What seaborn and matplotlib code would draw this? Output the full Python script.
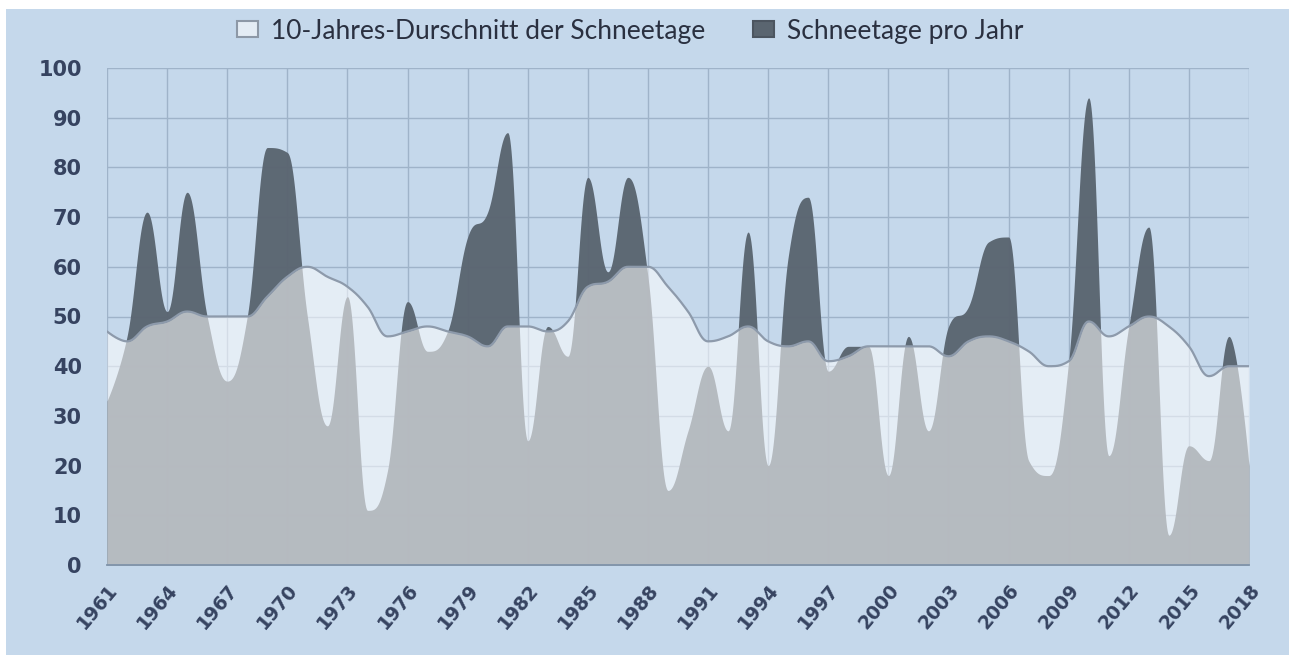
import numpy as np
import pandas as pd
import matplotlib
matplotlib.use("Agg")
import matplotlib.pyplot as plt
from matplotlib.patches import Patch, Rectangle
import seaborn as sns

# Snow days per year and their 10-year running average
years = list(range(1961, 2019))
snow_days = [33, 46, 71, 51, 75, 50, 37, 50, 84, 83, 50, 28, 54, 11, 19, 53, 43, 47, 66, 71,
             87, 25, 48, 42, 78, 59, 78, 58, 15, 27, 40, 27, 67, 20, 62, 74, 39, 44, 44, 18,
             46, 27, 48, 52, 65, 66, 21, 18, 41, 94, 22, 48, 68, 6, 24, 21, 46, 20]
avg_10y = [47, 45, 48, 49, 51, 50, 50, 50, 54, 58, 60, 58, 56, 52, 46, 47, 48, 47, 46, 44,
           48, 48, 47, 49, 56, 57, 60, 60, 56, 51, 45, 46, 48, 45, 44, 45, 41, 42, 44, 44,
           44, 44, 42, 45, 46, 45, 43, 40, 41, 49, 46, 48, 50, 48, 44, 38, 40, 40]

x_ticks = list(range(1961, 2019, 3))
y_ticks = list(range(0, 101, 10))
legend_labels = ["10-Jahres-Durschnitt der Schneetage", "Schneetage pro Jahr"]

BG = "#c5d8eb"
GRID = "#9fb3c9"
DARK = "#5a6570"
TEXT = "#364360"


def spline_path(xs, ys, smoothing=1.5, n=40):
    """Smooth curve through the points using bezier control points (areaspline style)."""
    xs = np.asarray(xs, float)
    ys = np.asarray(ys, float)
    m = len(xs)
    lc = np.zeros((m, 2))
    rc = np.zeros((m, 2))
    denom = smoothing + 1
    for i in range(m):
        x, y = xs[i], ys[i]
        if i == 0 or i == m - 1:
            lc[i] = (x, y)
            rc[i] = (x, y)
            continue
        lx, ly = xs[i - 1], ys[i - 1]
        nx, ny = xs[i + 1], ys[i + 1]
        lcx = (smoothing * x + lx) / denom
        lcy = (smoothing * y + ly) / denom
        rcx = (smoothing * x + nx) / denom
        rcy = (smoothing * y + ny) / denom
        if rcx != lcx:
            corr = ((rcy - lcy) * (rcx - x)) / (rcx - lcx) + y - rcy
            lcy += corr
            rcy += corr
        if lcy > ly and lcy > y:
            lcy = max(ly, y)
            rcy = 2 * y - lcy
        elif lcy < ly and lcy < y:
            lcy = min(ly, y)
            rcy = 2 * y - lcy
        if rcy > ny and rcy > y:
            rcy = max(ny, y)
            lcy = 2 * y - rcy
        elif rcy < ny and rcy < y:
            rcy = min(ny, y)
            lcy = 2 * y - rcy
        lc[i] = (lcx, lcy)
        rc[i] = (rcx, rcy)
    t = np.linspace(0, 1, n, endpoint=False)[:, None]
    pts = []
    for i in range(m - 1):
        p0 = np.array([xs[i], ys[i]])
        p1 = rc[i]
        p2 = lc[i + 1]
        p3 = np.array([xs[i + 1], ys[i + 1]])
        b = ((1 - t) ** 3) * p0 + 3 * ((1 - t) ** 2) * t * p1 + 3 * (1 - t) * t ** 2 * p2 + t ** 3 * p3
        pts.append(b)
    pts.append(np.array([[xs[-1], ys[-1]]]))
    pts = np.vstack(pts)
    return pts[:, 0], pts[:, 1]


df = pd.DataFrame({"Jahr": years, "Schneetage": snow_days, "Durchschnitt": avg_10y})

sns.set_theme(style="whitegrid")
plt.rcParams["font.family"] = ["Lato", "DejaVu Sans"]

fig = plt.figure(figsize=(12.89, 6.55), dpi=100, facecolor=BG)
# white margins along the top and left edge
fig.patches.append(Rectangle((0, 1 - 9 / 655), 1, 9 / 655, transform=fig.transFigure,
                             facecolor="white", edgecolor="none", zorder=0))
fig.patches.append(Rectangle((0, 0), 6 / 1289, 1, transform=fig.transFigure,
                             facecolor="white", edgecolor="none", zorder=0))
ax = fig.add_axes([107 / 1289, (655 - 565) / 655, (1249 - 107) / 1289, (565 - 68) / 655])
ax.set_zorder(2)
ax.set_facecolor(BG)

# annual snow days (dark area)
sx, sy = spline_path(df["Jahr"], df["Schneetage"])
ax.fill_between(sx, 0, sy, color=DARK, alpha=0.97, linewidth=0, zorder=2)

# 10-year average (translucent white area with outline)
axs, ays = spline_path(df["Jahr"], df["Durchschnitt"])
ax.fill_between(axs, 0, ays, color="white", alpha=0.55, linewidth=0, zorder=3)
sns.lineplot(x=axs, y=ays, ax=ax, color="#8d9aab", linewidth=1.6, zorder=4,
             estimator=None, sort=False)

ax.set_xlim(1961, 2018)
ax.set_ylim(0, 100)
ax.set_xticks(x_ticks)
ax.set_yticks(y_ticks)
ax.set_xticklabels([str(v) for v in x_ticks], rotation=50, ha="right",
                   rotation_mode="anchor", fontsize=13.5, fontweight="bold",
                   color=TEXT, family=["DejaVu Sans"])
ax.set_yticklabels([str(v) for v in y_ticks], fontsize=15, fontweight="bold",
                   color=TEXT, family=["DejaVu Sans"])
ax.grid(True, color=GRID, linewidth=1.0, zorder=1)
ax.set_axisbelow(True)
ax.tick_params(axis="both", length=9, width=1.0, color=GRID)
ax.tick_params(axis="y", pad=9)
ax.tick_params(axis="x", pad=2)
for side in ["top", "right", "left"]:
    ax.spines[side].set_visible(False)
ax.spines["bottom"].set_color("#7f93a9")
ax.spines["bottom"].set_linewidth(1.3)
ax.spines["bottom"].set_zorder(5)
ax.set_xlabel("")
ax.set_ylabel("")

handles = [Patch(facecolor="#e4ecf4", edgecolor="#8d98a6", linewidth=1.5),
           Patch(facecolor=DARK, edgecolor="#4c5560", linewidth=1.5)]
fig.legend(handles, legend_labels, loc="center", bbox_to_anchor=(630 / 1289, 1 - 31 / 655),
           ncol=2, frameon=False, fontsize=19, handlelength=0.8, handleheight=0.55,
           columnspacing=1.8, handletextpad=0.5, labelcolor="#2a3040")

fig.savefig("out.png", dpi=100, facecolor=BG)
